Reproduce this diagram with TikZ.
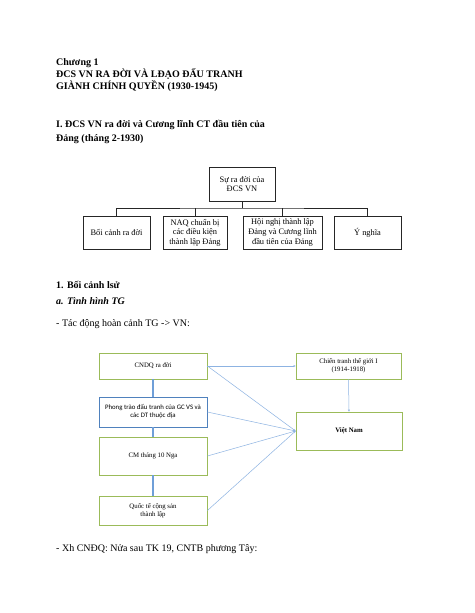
\documentclass[tikz,border=0pt]{standalone}
\usepackage{fontspec}
\setmainfont{Liberation Serif}
\newfontfamily\calib{Carlito}
\usetikzlibrary{arrows.meta}
\definecolor{ogreen}{HTML}{9BBB59}
\definecolor{oblue}{HTML}{4F81BD}
\definecolor{lblue}{HTML}{8DB3E2}
\definecolor{vblue}{HTML}{6F9FD8}
\begin{document}
\begin{tikzpicture}[x=1pt,y=-1pt,
  body/.style={anchor=base west,inner sep=0pt,font=\fontsize{10}{11}\selectfont},
  bodyb/.style={body,font=\fontsize{10}{11}\selectfont\bfseries},
  orgbox/.style={draw=black!85,line width=0.7pt,inner sep=0pt,align=center,
    font=\fontsize{8.4}{9.6}\selectfont},
  gbox/.style={draw=ogreen,line width=0.8pt,inner sep=0pt,align=center,
    font=\fontsize{6.8}{8.3}\selectfont},
  bbox/.style={draw=oblue,line width=0.8pt,inner sep=0pt,align=center,
    font=\calib\fontsize{6.8}{8}\selectfont},
  orgline/.style={draw=black!85,line width=0.7pt},
  conn/.style={draw=lblue,line width=0.5pt,-{Stealth[length=2.2pt,width=2pt]}},
  vconn/.style={draw=vblue,line width=1.1pt}]
\useasboundingbox (0,0) rectangle (474,613);
\fill[white] (0,0) rectangle (474,613);
% header texts
\node[bodyb] (t1) at (56,65.5) {Chương 1};
\node[bodyb] (t2) at (56,77.5) {ĐCS VN RA ĐỜI VÀ LĐẠO ĐẤU TRANH};
\node[bodyb] (t3) at (56,89.5) {GIÀNH CHÍNH QUYỀN (1930-1945)};
\node[bodyb] (t4) at (56,127.5) {I. ĐCS VN ra đời và Cương lĩnh CT đầu tiên của};
\node[bodyb] (t5) at (56,141.5) {Đảng (tháng 2-1930)};
% org chart
\node[orgbox,minimum width=66pt,minimum height=34pt] (top) at (242,184) {Sự ra đời của\\ĐCS VN};
\node[orgbox,minimum width=67pt,minimum height=33pt] (b1) at (116.5,232.5) {Bối cảnh ra đời};
\node[orgbox,minimum width=64pt,minimum height=33pt] (b2) at (195,232.5) {NAQ chuẩn bị\\các điều kiện\\thành lập Đảng};
\node[orgbox,minimum width=79pt,minimum height=33pt] (b3) at (282.5,232.5) {Hội nghị thành lập\\Đảng và Cương lĩnh\\đầu tiên của Đảng};
\node[orgbox,minimum width=67pt,minimum height=33pt] (b4) at (367.5,232.5) {Ý nghĩa};
\coordinate (hub) at (242,208);
\draw[orgline] (top.south) -- (hub);
\draw[orgline] (b1.north) |- (hub) -| (b4.north);
\draw[orgline] (b2.north) -- (b2.north |- hub);
\draw[orgline] (b3.north) -- (b3.north |- hub);
% section texts
\node[bodyb] (s1) at (56,288.5) {1. Bối cảnh lsử};
\node[body,font=\fontsize{10}{11}\selectfont\bfseries\itshape] (s2) at (56,304.5) {a. Tình hình TG};
\node[body] (s3) at (56,326.5) {- Tác động hoàn cảnh TG -> VN:};
% lower diagram
\node[gbox,minimum width=108pt,minimum height=26pt] (cndq) at (153,366) {CNDQ ra đời};
\node[bbox,minimum width=108pt,minimum height=30pt] (pt) at (153,412) {Phong trào đấu tranh của GC VS và\\các DT thuộc địa};
\node[gbox,minimum width=108pt,minimum height=38pt] (cm) at (153,456) {CM tháng 10 Nga};
\node[gbox,minimum width=108pt,minimum height=29pt] (qt) at (153,510.5) {Quốc tế cộng sản\\thành lập};
\node[gbox,minimum width=105pt,minimum height=26pt,font=\fontsize{6.8}{8}\selectfont] (ct) at (348.5,366) {Chiến tranh thế giới I\\(1914-1918)};
\node[gbox,minimum width=106pt,minimum height=38pt,font=\fontsize{6.8}{9}\selectfont\bfseries] (vn) at (349,431) {Việt Nam};
\draw[vconn] (cndq.south) -- (pt.north);
\draw[vconn] (pt.south) -- (cm.north);
\draw[vconn] (cm.south) -- (qt.north);
\draw[conn] (cndq.east) -- (ct.west);
\draw[conn] (cndq.east) -- (vn.west);
\draw[conn] (pt.east) -- (vn.west);
\draw[conn] (cm.east) -- (vn.west);
\draw[conn] (qt.east) -- (vn.west);
\draw[conn] (ct.south) -- (vn.north);
\node[body] (s4) at (56,551.5) {- Xh CNĐQ: Nửa sau TK 19, CNTB phương Tây:};
\end{tikzpicture}
\end{document}
